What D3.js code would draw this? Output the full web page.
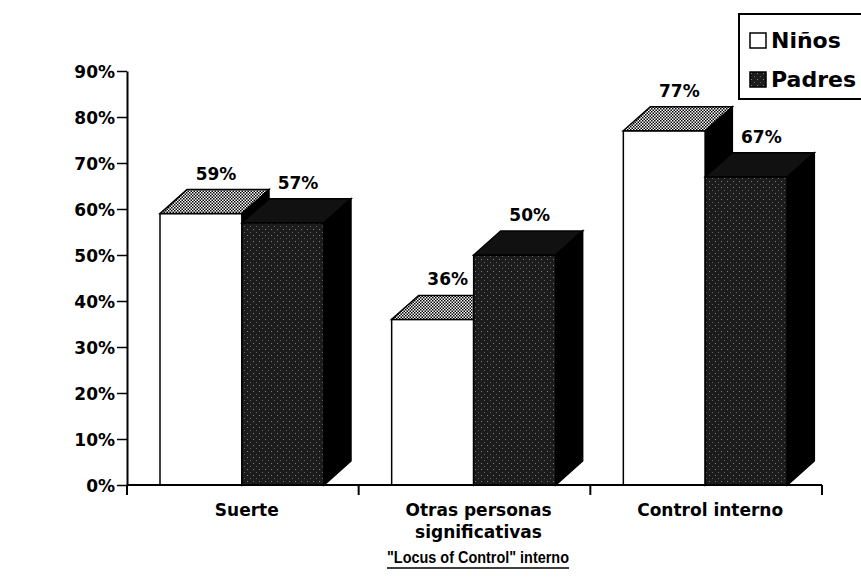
<!DOCTYPE html>
<html><head><meta charset="utf-8">
<script src="https://cdn.jsdelivr.net/npm/d3@7"></script>
<style>body{margin:0;background:#fff}svg{display:block}text{font-weight:bold;fill:#000}</style>
</head><body><svg id="c" width="861" height="583"></svg>
<script>
const categories = ["Suerte", "Otras personas significativas", "Control interno"];
const categoryLines = [["Suerte"], ["Otras personas", "significativas"], ["Control interno"]];
const series = ["Niños", "Padres"];
const ninos = [59, 36, 77];
const padres = [57, 50, 67];
const yTicks = [0, 10, 20, 30, 40, 50, 60, 70, 80, 90];
const title = "\"Locus of Control\" interno";

const F = "DejaVu Sans, sans-serif";
const svg = d3.select("#c");
const defs = svg.append("defs");
const ph = defs.append("pattern").attr("id","hatch").attr("width",3).attr("height",3).attr("patternUnits","userSpaceOnUse");
ph.append("rect").attr("width",3).attr("height",3).attr("fill","#fff");
ph.append("rect").attr("x",0).attr("y",0).attr("width",1.5).attr("height",1.5).attr("fill","#000");
ph.append("rect").attr("x",1.5).attr("y",1.5).attr("width",1.5).attr("height",1.5).attr("fill","#000");
const ps = defs.append("pattern").attr("id","stip").attr("width",6).attr("height",6).attr("patternUnits","userSpaceOnUse");
ps.append("rect").attr("width",6).attr("height",6).attr("fill","#1c1c1c");
ps.append("rect").attr("x",1).attr("y",1).attr("width",1).attr("height",1).attr("fill","#808080");
ps.append("rect").attr("x",4).attr("y",4).attr("width",1).attr("height",1).attr("fill","#606060");

const x = d3.scaleBand().domain(categories).range([127, 822]);
const xs = d3.scaleBand().domain(series).range([33, 33 + 164]);
const y = d3.scaleLinear().domain([0, 90]).range([485, 71]);
const dx = 27, dy = 24;

const styles = {
  "Niños": {front: "#fff", top: "url(#hatch)", side: "#000"},
  "Padres": {front: "url(#stip)", top: "#111", side: "#000"}
};

const bars = svg.append("g");
categories.forEach((c, i) => {
  [["Niños", ninos[i]], ["Padres", padres[i]]].forEach(([s, v]) => {
    const x0 = x(c) + xs(s), x1 = x0 + xs.bandwidth();
    const yt = y(v), yb = y(0);
    const st = styles[s];
    const g = bars.append("g");
    g.append("rect").attr("x", x0).attr("y", yt).attr("width", x1 - x0).attr("height", yb - yt)
      .attr("fill", st.front).attr("stroke", "#000").attr("stroke-width", 1.5);
    g.append("path").attr("d", `M${x0},${yt}L${x0+dx},${yt-dy}L${x1+dx},${yt-dy}L${x1},${yt}Z`)
      .attr("fill", st.top).attr("stroke", "#000").attr("stroke-width", 1.5);
    g.append("path").attr("d", `M${x1},${yt}L${x1+dx},${yt-dy}L${x1+dx},${yb-dy}L${x1},${yb}Z`)
      .attr("fill", st.side).attr("stroke", "#000").attr("stroke-width", 1.5);
  });
});
const labs = svg.append("g");
categories.forEach((c, i) => {
  [["Niños", ninos[i]], ["Padres", padres[i]]].forEach(([s, v]) => {
    const cx = x(c) + xs(s) + xs.bandwidth() / 2 + 15;
    labs.append("text").attr("x", cx).attr("y", y(v) - dy - 10).attr("text-anchor", "middle")
      .style("font-family", F).style("font-size", "17px").text(v + "%");
  });
});

const ya = svg.append("g").attr("transform", "translate(127,0)")
  .call(d3.axisLeft(y).tickValues(yTicks).tickFormat(d => d + "%").tickSize(10).tickSizeOuter(0));
ya.select(".domain").attr("stroke", "#000").attr("stroke-width", 2);
ya.selectAll(".tick line").attr("stroke", "#000").attr("stroke-width", 1.5);
ya.selectAll(".tick text").style("font-size", "17px").style("font-family", F)
  .attr("fill", "#000").attr("x", -12).attr("dy", "0.36em");

const xa = svg.append("g");
xa.append("line").attr("x1", 127).attr("x2", 822).attr("y1", y(0)).attr("y2", y(0)).attr("stroke", "#000").attr("stroke-width", 2);
xa.append("line").attr("x1", 127).attr("x2", 127).attr("y1", y(0)).attr("y2", y(0) + 10).attr("stroke", "#000").attr("stroke-width", 2);
categories.forEach(c => {
  const bx = x(c) + x.bandwidth();
  xa.append("line").attr("x1", bx).attr("x2", bx).attr("y1", y(0)).attr("y2", y(0) + 10).attr("stroke", "#000").attr("stroke-width", 2);
});
categories.forEach((c, i) => {
  const cx = x(c) + x.bandwidth() / 2 + 4;
  const t = xa.append("text").attr("x", cx).attr("y", 516)
    .attr("text-anchor", "middle").style("font-family", F).style("font-size", "17px");
  categoryLines[i].forEach((ln, j) => {
    t.append("tspan").attr("x", cx).attr("dy", j === 0 ? 0 : 22).text(ln);
  });
});
const tt = svg.append("text").attr("x", 478).attr("y", 563).attr("text-anchor", "middle")
  .attr("textLength", 182).attr("lengthAdjust", "spacingAndGlyphs")
  .style("font-family", "'Liberation Sans', Arial, sans-serif").style("font-size", "17px").text(title);
const bb = tt.node().getBBox();
svg.append("line").attr("x1", bb.x).attr("x2", bb.x + bb.width).attr("y1", 568).attr("y2", 568).attr("stroke", "#000").attr("stroke-width", 1.5);

const lg = svg.append("g");
lg.append("rect").attr("x", 739).attr("y", 14).attr("width", 140).attr("height", 85).attr("fill", "#fff")
  .attr("stroke", "#000").attr("stroke-width", 2);
series.forEach((s, i) => {
  const base = 48 + i * 39;
  lg.append("rect").attr("x", 750).attr("y", base - 15).attr("width", 16).attr("height", 15)
    .attr("fill", i === 0 ? "#fff" : "url(#stip)").attr("stroke", "#000").attr("stroke-width", 1.5);
  lg.append("text").attr("x", 771).attr("y", base).style("font-family", F).style("font-size", "22px").text(s);
});
</script></body></html>
